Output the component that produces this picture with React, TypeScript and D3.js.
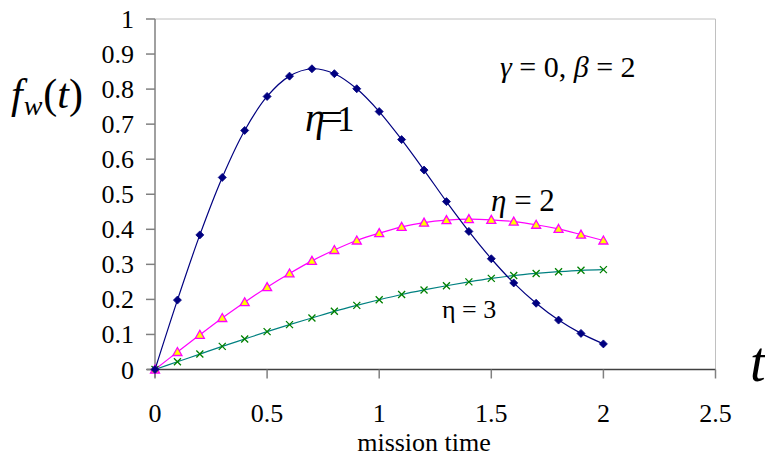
import React from "react";
import * as d3 from "d3";

const times = [0, 0.1, 0.2, 0.3, 0.4, 0.5, 0.6, 0.7, 0.8, 0.9, 1.0, 1.1, 1.2, 1.3, 1.4, 1.5, 1.6, 1.7, 1.8, 1.9, 2.0];
const eta1 = [0, 0.198, 0.384, 0.548, 0.682, 0.779, 0.837, 0.858, 0.844, 0.801, 0.736, 0.656, 0.569, 0.479, 0.394, 0.316, 0.247, 0.189, 0.141, 0.103, 0.073];
const eta2 = [0, 0.05, 0.099, 0.147, 0.192, 0.235, 0.274, 0.31, 0.341, 0.368, 0.389, 0.407, 0.419, 0.426, 0.429, 0.427, 0.422, 0.413, 0.401, 0.385, 0.368];
const eta3 = [0, 0.022, 0.044, 0.066, 0.087, 0.108, 0.128, 0.147, 0.166, 0.183, 0.199, 0.214, 0.227, 0.239, 0.25, 0.26, 0.268, 0.274, 0.279, 0.283, 0.285];
const xTicks = [0, 0.5, 1, 1.5, 2, 2.5];
const yTicks = [0, 0.1, 0.2, 0.3, 0.4, 0.5, 0.6, 0.7, 0.8, 0.9, 1];

const FONT = "Liberation Serif, Times New Roman, serif";
const S = { fontFamily: FONT };

export default function App() {
  const left = 155, right = 715.5, top = 19, bottom = 369.5;
  const x = d3.scaleLinear().domain([0, 2.5]).range([left, right]);
  const y = d3.scaleLinear().domain([0, 1]).range([bottom, top]);
  const line = (vals: number[]) =>
    d3.line<number>().x((_, i) => x(times[i])).y((d) => y(d)).curve(d3.curveCatmullRom.alpha(0.5))(vals) || "";
  const fmt = (v: number) => String(+v.toFixed(1));

  return (
    <svg width={765} height={458} style={{ position: "absolute", left: 0, top: 0, background: "#fff", fontFamily: FONT }}>
      {/* plot frame */}
      <line x1={left} x2={right} y1={top} y2={top} stroke="#c0c0c0" strokeWidth={1} />
      <line x1={right} x2={right} y1={top} y2={bottom} stroke="#c0c0c0" strokeWidth={1} />
      {/* axes */}
      <line x1={left} x2={left} y1={top} y2={bottom + 8} stroke="#808080" strokeWidth={1.5} />
      <line x1={left - 8} x2={right} y1={bottom} y2={bottom} stroke="#404040" strokeWidth={1.5} />
      {yTicks.map((t) => (
        <g key={"y" + t}>
          <line x1={left - 9} x2={left} y1={y(t)} y2={y(t)} stroke="#808080" strokeWidth={1.5} />
          <text x={134} y={y(t) + 9} textAnchor="end" fontSize={26} style={S}>{fmt(t)}</text>
        </g>
      ))}
      {xTicks.map((t) => (
        <g key={"x" + t}>
          <line x1={x(t)} x2={x(t)} y1={bottom} y2={bottom + 9} stroke="#808080" strokeWidth={1.5} />
          <text x={x(t)} y={422} textAnchor="middle" fontSize={26} style={S}>{fmt(t)}</text>
        </g>
      ))}
      <text x={424} y={451} textAnchor="middle" fontSize={26} style={S}>mission time</text>
      <text x={750} y={381} fontSize={56} fontStyle="italic" style={S}>t</text>
      <text x={11} y={108} fontSize={42} style={S}>
        <tspan fontStyle="italic">f</tspan>
        <tspan fontStyle="italic" fontSize={28} dy={7} dx={1}>w</tspan>
        <tspan dy={-7} dx={1}>(</tspan>
        <tspan fontStyle="italic">t</tspan>
        <tspan>)</tspan>
      </text>

      {/* series */}
      <path d={line(eta3)} fill="none" stroke="#008080" strokeWidth={1.2} />
      <path d={line(eta2)} fill="none" stroke="#ff00ff" strokeWidth={1.2} />
      <path d={line(eta1)} fill="none" stroke="#000080" strokeWidth={1.2} />
      {eta3.map((v, i) => (
        <path key={"c" + i} d="M-3.5,-3.5L3.5,3.5M-3.5,3.5L3.5,-3.5" transform={`translate(${x(times[i])},${y(v)})`} stroke="#008000" strokeWidth={1.3} fill="none" />
      ))}
      {eta2.map((v, i) => (
        <path key={"t" + i} d="M0,-4.5L4.5,3.5L-4.5,3.5Z" transform={`translate(${x(times[i])},${y(v)})`} fill="#ffff00" stroke="#ff00ff" strokeWidth={1.3} />
      ))}
      {eta1.map((v, i) => (
        <path key={"d" + i} d="M0,-4L4,0L0,4L-4,0Z" transform={`translate(${x(times[i])},${y(v)})`} fill="#000080" stroke="#000080" strokeWidth={0.8} />
      ))}

      {/* annotations */}
      <text x={305} y={131} fontSize={40} fontStyle="italic" letterSpacing={-7} style={S}>η=</text>
      <text x={337} y={131} fontSize={35} style={S}>1</text>
      <text x={491} y={211} fontSize={31} style={S}>
        <tspan fontStyle="italic">η</tspan>
        <tspan> = 2</tspan>
      </text>
      <text x={442} y={318} fontSize={26} style={S}>η = 3</text>
      <text x={500} y={77} fontSize={30} style={S}>
        <tspan fontStyle="italic">γ</tspan>
        <tspan> = 0, </tspan>
        <tspan fontStyle="italic">β</tspan>
        <tspan> = 2</tspan>
      </text>
    </svg>
  );
}
